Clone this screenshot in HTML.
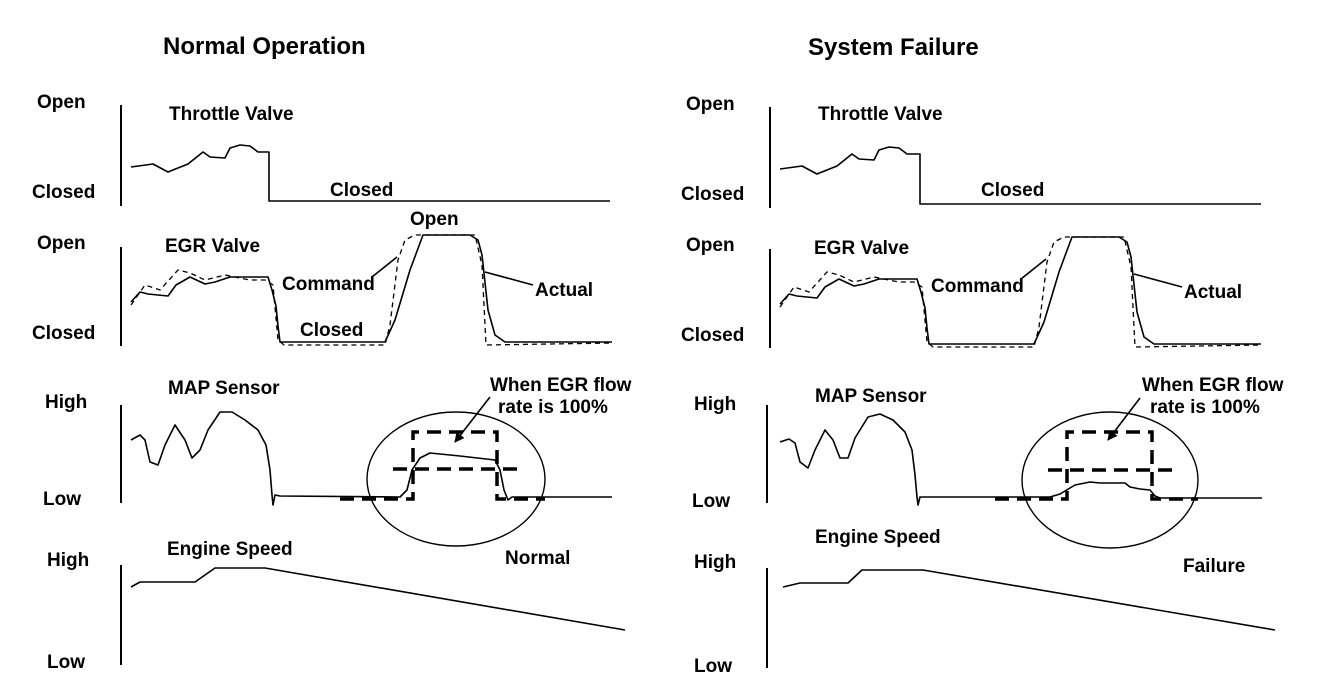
<!DOCTYPE html>
<html><head><meta charset="utf-8"><style>
html,body{margin:0;padding:0;background:#fff;}
svg{display:block;}
text{font-family:"Liberation Sans",Arial,sans-serif;font-weight:bold;fill:#000;}
.t{font-size:19px;}
.h{font-size:24px;}
.s{fill:none;stroke:#000;stroke-width:1.6;stroke-linejoin:round;}
.ax{stroke:#000;stroke-width:2;}
.d{fill:none;stroke:#000;stroke-width:1.3;stroke-dasharray:5,4;}
.D{fill:none;stroke:#000;stroke-width:3.5;stroke-dasharray:14,8;}
</style></head><body>
<svg width="1328" height="696" viewBox="0 0 1328 696" xmlns="http://www.w3.org/2000/svg">
<defs>
<marker id="ah" markerWidth="10" markerHeight="10" refX="9" refY="5" orient="auto" markerUnits="userSpaceOnUse" viewBox="0 0 10 10"><path d="M0,0 L10,5 L0,10 z" fill="#000"/></marker>
</defs>

<!-- ===== LEFT ===== -->
<text class="h" x="163" y="54">Normal Operation</text>

<!-- Throttle -->
<text class="t" x="37" y="108">Open</text>
<text class="t" x="32" y="198">Closed</text>
<line class="ax" x1="121" y1="105" x2="121" y2="206"/>
<text class="t" x="169" y="120">Throttle Valve</text>
<path class="s" d="M131,167 L153,164 L168,172 L188,164 L203,152 L210,157 L225,158 L230,148 L240,145 L250,146 L258,152 L269,152 L269,201 L610,201"/>
<text class="t" x="330" y="196">Closed</text>

<!-- EGR -->
<text class="t" x="37" y="249">Open</text>
<text class="t" x="32" y="339">Closed</text>
<line class="ax" x1="121" y1="247" x2="121" y2="346"/>
<text class="t" x="165" y="252">EGR Valve</text>
<path class="s" d="M131,302 L140,292 L148,294 L168,296 L176,285 L190,277 L205,284 L215,282 L230,277 L268,277 L272,290 L276,306 L278,326 L280,342 L385,342 L395,320 L410,270 L423,235 L470,235 L478,240 L482,255 L488,310 L495,335 L505,342 L612,342"/>
<path class="d" d="M131,305 L145,285 L160,290 L178,270 L190,273 L205,280 L225,275 L240,278 L250,280 L265,280 L273,285 L278,340 L284,345 L385,345 L390,325 L398,260 L405,240 L415,235 L475,235 L482,265 L486,345 L612,343"/>
<line class="s" x1="397" y1="257" x2="372" y2="277"/>
<line class="s" x1="485" y1="272" x2="533" y2="285"/>
<text class="t" x="282" y="290">Command</text>
<text class="t" x="300" y="336">Closed</text>
<text class="t" x="410" y="225">Open</text>
<text class="t" x="535" y="296">Actual</text>

<!-- MAP -->
<text class="t" x="45" y="408">High</text>
<text class="t" x="43" y="505">Low</text>
<line class="ax" x1="121" y1="405" x2="121" y2="503"/>
<text class="t" x="168" y="394">MAP Sensor</text>
<path class="s" d="M131,440 L140,435 L145,440 L150,462 L158,465 L165,445 L175,425 L185,440 L192,458 L200,450 L208,430 L220,412 L232,412 L245,420 L258,430 L266,445 L270,470 L272,495 L273,505 L275,495 L280,496 L400,497 L407,490 L412,470 L420,458 L430,453 L460,456 L495,460 L500,470 L504,490 L508,500 L512,497 L612,497"/>
<path class="D" d="M340,499 L413,499 L413,432 L497,432 L497,499 L545,499"/>
<line class="D" x1="393" y1="469" x2="517" y2="469"/>
<ellipse cx="456" cy="479" rx="89" ry="67" fill="none" stroke="#000" stroke-width="1.4"/>
<line x1="490" y1="397" x2="455" y2="442" stroke="#000" stroke-width="1.6" marker-end="url(#ah)"/>
<text class="t" x="490" y="391">When EGR flow</text>
<text class="t" x="498" y="413">rate is 100%</text>
<text class="t" x="505" y="564">Normal</text>

<!-- Engine -->
<text class="t" x="47" y="566">High</text>
<text class="t" x="47" y="668">Low</text>
<line class="ax" x1="121" y1="565" x2="121" y2="665"/>
<text class="t" x="167" y="555">Engine Speed</text>
<path class="s" d="M131,587 L140,582 L195,582 L215,568 L265,568 L625,630"/>

<!-- ===== RIGHT ===== -->
<text class="h" x="808" y="55">System Failure</text>

<g transform="translate(649,2)">
<text class="t" x="37" y="108">Open</text>
<text class="t" x="32" y="198">Closed</text>
<line class="ax" x1="121" y1="105" x2="121" y2="206"/>
<text class="t" x="169" y="118">Throttle Valve</text>
<path class="s" d="M131,167 L153,164 L168,172 L188,164 L203,152 L210,157 L225,158 L230,148 L240,145 L250,146 L258,152 L271,152 L271,202 L612,202"/>
<text class="t" x="332" y="194">Closed</text>

<text class="t" x="37" y="249">Open</text>
<text class="t" x="32" y="339">Closed</text>
<line class="ax" x1="121" y1="247" x2="121" y2="346"/>
<text class="t" x="165" y="252">EGR Valve</text>
<path class="s" d="M131,302 L140,292 L148,294 L168,296 L176,285 L190,277 L205,284 L215,282 L230,277 L268,277 L272,290 L276,306 L278,326 L280,342 L385,342 L395,320 L410,270 L423,235 L470,235 L478,240 L482,255 L488,310 L495,335 L505,342 L612,342"/>
<path class="d" d="M131,305 L145,285 L160,290 L178,270 L190,273 L205,280 L225,275 L240,278 L250,280 L265,280 L273,285 L278,340 L284,345 L385,345 L390,325 L398,260 L405,240 L415,235 L475,235 L482,265 L486,345 L612,343"/>
<line class="s" x1="397" y1="257" x2="372" y2="277"/>
<line class="s" x1="485" y1="272" x2="533" y2="285"/>
<text class="t" x="282" y="290">Command</text>
<text class="t" x="535" y="296">Actual</text>
</g>

<!-- MAP right -->
<text class="t" x="694" y="410">High</text>
<text class="t" x="692" y="507">Low</text>
<line class="ax" x1="767" y1="405" x2="767" y2="503"/>
<text class="t" x="815" y="402">MAP Sensor</text>
<path class="s" d="M780,442 L789,439 L795,443 L800,462 L808,468 L815,450 L825,430 L833,440 L840,458 L848,458 L855,438 L868,417 L880,414 L893,420 L905,432 L912,450 L915,475 L917,497 L918,505 L920,497 L1050,497 L1060,494 L1075,485 L1090,482 L1100,483 L1125,483 L1130,487 L1140,489 L1150,490 L1155,496 L1160,498 L1262,498"/>
<path class="D" d="M995,499 L1067,499 L1067,432 L1152,432 L1152,499 L1198,499"/>
<line class="D" x1="1048" y1="470" x2="1172" y2="470"/>
<ellipse cx="1110" cy="480" rx="88" ry="68" fill="none" stroke="#000" stroke-width="1.4"/>
<line x1="1140" y1="398" x2="1108" y2="440" stroke="#000" stroke-width="1.6" marker-end="url(#ah)"/>
<text class="t" x="1142" y="391">When EGR flow</text>
<text class="t" x="1150" y="413">rate is 100%</text>
<text class="t" x="1183" y="572">Failure</text>

<!-- Engine right -->
<text class="t" x="694" y="568">High</text>
<text class="t" x="694" y="672">Low</text>
<line class="ax" x1="767" y1="568" x2="767" y2="668"/>
<text class="t" x="815" y="543">Engine Speed</text>
<path class="s" d="M783,587 L800,583 L848,583 L862,570 L923,570 L1275,630"/>
</svg>
</body></html>
